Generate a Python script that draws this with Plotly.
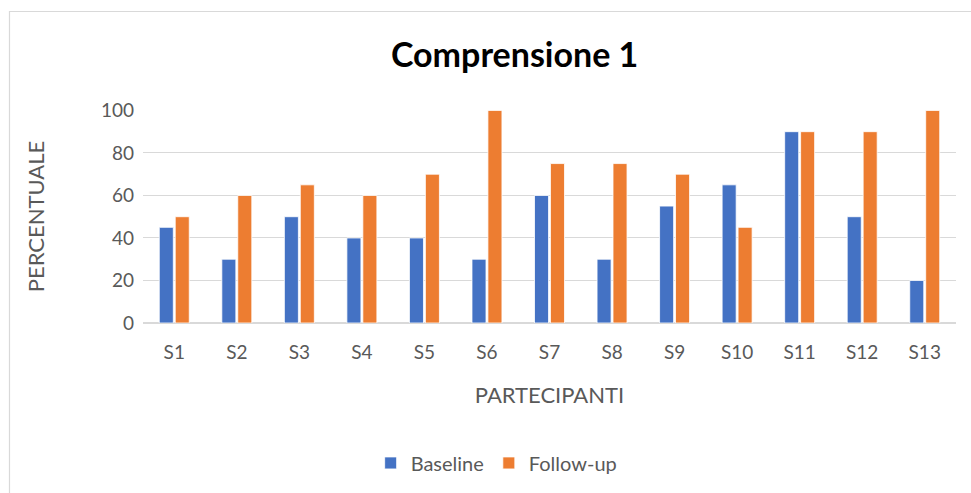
import plotly.graph_objects as go

categories = ["S1", "S2", "S3", "S4", "S5", "S6", "S7", "S8", "S9", "S10", "S11", "S12", "S13"]
baseline = [45, 30, 50, 40, 40, 30, 60, 30, 55, 65, 90, 50, 20]
follow_up = [50, 60, 65, 60, 70, 100, 75, 75, 70, 45, 90, 90, 100]

FONT = "Lato"
GRAY = "#595959"

fig = go.Figure()
fig.add_trace(go.Bar(x=categories, y=baseline, name="Baseline",
                     marker=dict(color="#4472C4", line=dict(color="white", width=0.8))))
fig.add_trace(go.Bar(x=categories, y=follow_up, name="Follow-up",
                     marker=dict(color="#ED7D31", line=dict(color="white", width=0.8))))

fig.update_layout(
    width=971, height=493,
    margin=dict(l=143, r=15, t=110, b=170, autoexpand=False),
    paper_bgcolor="white", plot_bgcolor="white",
    barmode="group", bargap=0.49, bargroupgap=0.12,
    font=dict(family=FONT, color=GRAY, size=19),
    title=dict(text="<b>Comprensione 1</b>", x=0.53, xanchor="center", y=0.888, yanchor="middle",
               font=dict(family=FONT, size=34, color="black")),
    showlegend=True,
    legend=dict(orientation="h", x=0.435, xanchor="center", y=-0.657, yanchor="middle",
                font=dict(size=20, color=GRAY), itemwidth=30, traceorder="normal"),
    xaxis=dict(showgrid=False, showline=False, ticks="", tickfont=dict(size=19, color=GRAY),
               ticklabelstandoff=16,
               title=dict(text="PARTECIPANTI", font=dict(size=22, color=GRAY), standoff=25)),
    yaxis=dict(range=[0, 100.2], dtick=20, showgrid=True, gridcolor="#d9d9d9", gridwidth=1.3,
               zeroline=True, zerolinecolor="#d9d9d9", zerolinewidth=1.5,
               tickfont=dict(size=19, color=GRAY), ticks="", ticklabelstandoff=8,
               title=dict(text="PERCENTUALE", font=dict(size=22, color=GRAY), standoff=50)),
    shapes=[dict(type="rect", xref="paper", yref="paper",
                 x0=(9.5 - 143) / 813, x1=1.1, y0=-1.0, y1=(323 - 11.5) / 213,
                 line=dict(color="#d9d9d9", width=1.2), fillcolor="rgba(0,0,0,0)", layer="below")],
)

fig.write_html("out.html", config={"displayModeBar": False},
               post_script="document.body.style.margin='0';")
